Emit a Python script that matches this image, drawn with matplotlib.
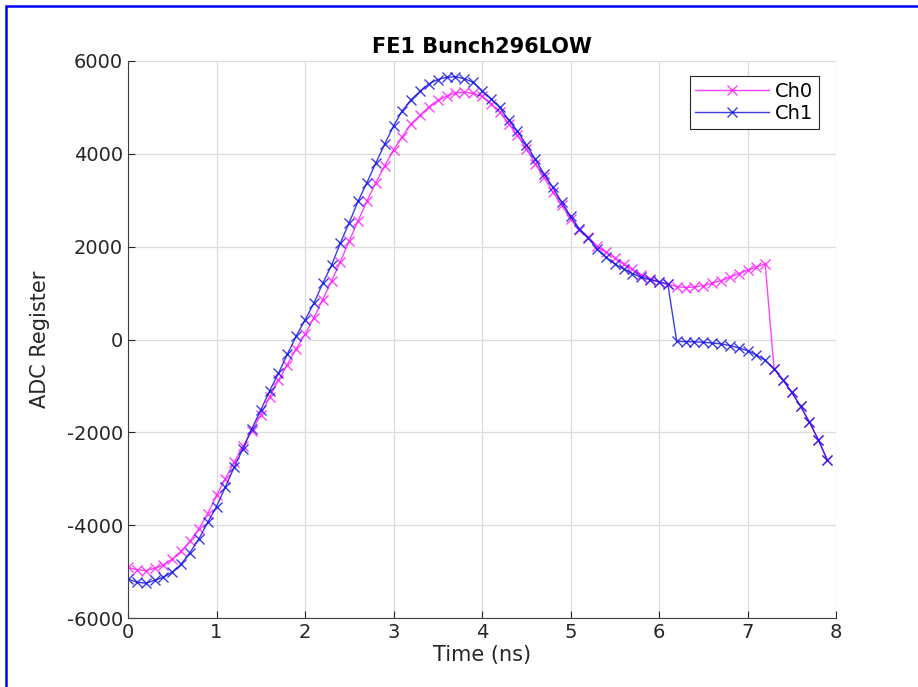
import matplotlib
matplotlib.use("Agg")
import matplotlib.pyplot as plt
from matplotlib.patches import Rectangle
import numpy as np

plt.rcParams["axes.unicode_minus"] = False

# sample times (ns), step 0.1
time_ns = [round(0.1 * i, 1) for i in range(80)]

ch0 = [-4910, -4960, -4980, -4930, -4860, -4730, -4560, -4350, -4080, -3760,
       -3360, -3000, -2640, -2300, -1970, -1620, -1240, -880, -540, -200,
       110, 470, 860, 1260, 1680, 2120, 2560, 2980, 3380, 3740,
       4080, 4370, 4650, 4830, 5010, 5150, 5240, 5310, 5330, 5300,
       5240, 5080, 4900, 4650, 4400, 4110, 3790, 3500, 3180, 2890,
       2600, 2350, 2200, 2010, 1880, 1760, 1620, 1510, 1390, 1310,
       1240, 1190, 1140, 1120, 1130, 1160, 1210, 1270, 1340, 1420,
       1490, 1560, 1630, -630, -870, -1140, -1440, -1780, -2160, -2590]

ch1 = [-5160, -5230, -5250, -5190, -5120, -5010, -4840, -4590, -4300, -3940,
       -3600, -3180, -2750, -2350, -1920, -1520, -1110, -730, -320, 70,
       420, 780, 1210, 1600, 2080, 2520, 2980, 3380, 3800, 4210,
       4600, 4930, 5170, 5350, 5510, 5600, 5650, 5660, 5620, 5540,
       5360, 5190, 5000, 4730, 4490, 4200, 3890, 3570, 3280, 2960,
       2650, 2390, 2190, 1950, 1770, 1630, 1520, 1420, 1340, 1290,
       1240, 1190, -40, -45, -50, -60, -75, -95, -130, -180,
       -240, -330, -450, -630, -870, -1140, -1440, -1780, -2160, -2590]

series_names = ["Ch0", "Ch1"]
xticks = np.arange(0, 9, 1)
yticks = np.arange(-6000, 6001, 2000)

fig = plt.figure(figsize=(9.18, 6.87), dpi=100)
ax = fig.add_axes([128 / 918, 1 - 618 / 687, (836 - 128) / 918, (618 - 61) / 687])

ax.plot(time_ns, ch0, color="#ff22ff", marker="x", markersize=7, lw=1.0,
        alpha=0.85, label=series_names[0])
ax.plot(time_ns, ch1, color="#1a1ae6", marker="x", markersize=7, lw=1.0,
        alpha=0.85, label=series_names[1])

ax.set_xlim(0, 8)
ax.set_ylim(-6000, 6000)
ax.set_xticks(xticks)
ax.set_yticks(yticks)
ax.tick_params(direction="in", labelsize=14, colors="#262626", length=5)
ax.grid(True, color="#dcdcdc", lw=0.9)
ax.set_axisbelow(True)
for s in ["top", "right"]:
    ax.spines[s].set_visible(False)
for s in ["left", "bottom"]:
    ax.spines[s].set_color("#404040")

ax.set_title("FE1 Bunch296LOW", fontsize=15, fontweight="bold", pad=6)
ax.set_xlabel("Time (ns)", fontsize=15, color="#262626", labelpad=2)
ax.set_ylabel("ADC Register", fontsize=15, color="#262626", labelpad=12)

leg = ax.legend(loc="upper right", fontsize=14, fancybox=False, framealpha=1,
                edgecolor="#262626", handlelength=3.8, handletextpad=0.3,
                borderpad=0.3, labelspacing=0.15,
                bbox_to_anchor=(0.99, 0.99))
leg.get_frame().set_linewidth(0.8)

# blue outline around the figure
fig.patches.append(Rectangle((6 / 918, -0.1), 1.2, 1 - 6 / 687 + 0.1,
                             transform=fig.transFigure, fill=False,
                             edgecolor="#0000ff", lw=1.8))

fig.savefig("out.png", dpi=100)
